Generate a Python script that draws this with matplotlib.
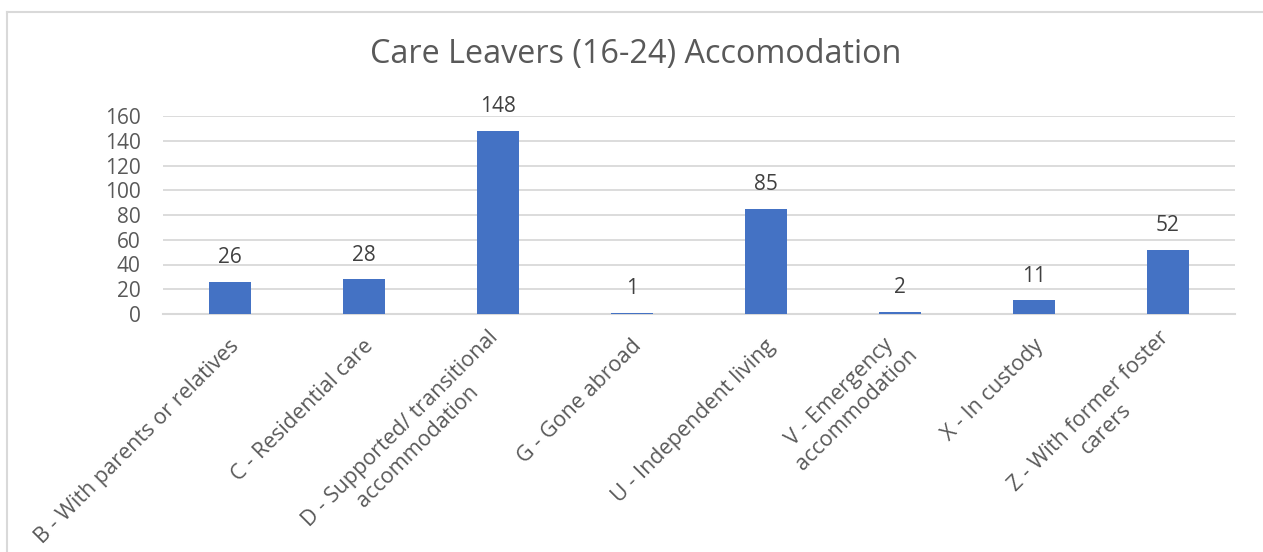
import matplotlib.pyplot as plt
from matplotlib.lines import Line2D
from matplotlib.transforms import ScaledTranslation
import numpy as np

categories = [
    "B - With parents or relatives",
    "C - Residential care",
    "D - Supported/ transitional\naccommodation",
    "G - Gone abroad",
    "U - Independent living",
    "V - Emergency\naccommodation",
    "X - In custody",
    "Z - With former foster\ncarers",
]
counts = [26, 28, 148, 1, 85, 2, 11, 52]
y_ticks = [0, 20, 40, 60, 80, 100, 120, 140, 160]
title = "Care Leavers (16-24) Accomodation"

BAR_COLOR = "#4472C4"
GRID_COLOR = "#D9D9D9"
TEXT_COLOR = "#595959"
LABEL_COLOR = "#404040"

plt.rcParams['font.family'] = ['Open Sans', 'DejaVu Sans']

W, H = 1263, 552
fig = plt.figure(figsize=(W / 100, H / 100), dpi=100)
ax = fig.add_axes([163 / W, 1 - 314 / H, (1235 - 163) / W, (314 - 116) / H])

x = np.arange(len(categories))
bars = ax.bar(x, counts, width=0.31, color=BAR_COLOR, zorder=3)

for rect, val in zip(bars, counts):
    ax.annotate(str(val), (rect.get_x() + rect.get_width() / 2, rect.get_height()),
                xytext=(0, 13.5), textcoords='offset points', ha='center', va='baseline',
                fontsize=15, color=LABEL_COLOR)

ax.set_xlim(-0.5, len(categories) - 0.5)
ax.set_ylim(0, 160)
ax.set_yticks(y_ticks)
ax.yaxis.grid(True, color=GRID_COLOR, linewidth=1.3, zorder=0)
ax.set_axisbelow(True)
for side in ['top', 'right', 'left']:
    ax.spines[side].set_visible(False)
ax.spines['bottom'].set_color(GRID_COLOR)
ax.spines['bottom'].set_linewidth(1.5)

ax.tick_params(axis='y', length=0, pad=16, labelsize=15, labelcolor=TEXT_COLOR)
ax.tick_params(axis='x', length=0, pad=21, labelsize=15.5, labelcolor=TEXT_COLOR)
ax.set_xticks(x)
ax.set_xticklabels(categories, rotation=45, ha='right', va='center',
                   rotation_mode='anchor', multialignment='center')
shift = ScaledTranslation(6 / 100, 0, fig.dpi_scale_trans)
for lbl in ax.get_xticklabels():
    lbl.set_transform(lbl.get_transform() + shift)

fig.text(636 / W, 1 - 62.5 / H, title, ha='center', va='baseline',
         fontsize=23.3, color=TEXT_COLOR)

# chart frame (left and top edges visible in the crop)
fig.add_artist(Line2D([7 / W, 7 / W], [0, 1 - 12 / H], color=GRID_COLOR, linewidth=1.5,
                      transform=fig.transFigure))
fig.add_artist(Line2D([7 / W, 1], [1 - 12 / H, 1 - 12 / H], color=GRID_COLOR, linewidth=1.5,
                      transform=fig.transFigure))

fig.savefig("out.png", dpi=100, facecolor='white')
